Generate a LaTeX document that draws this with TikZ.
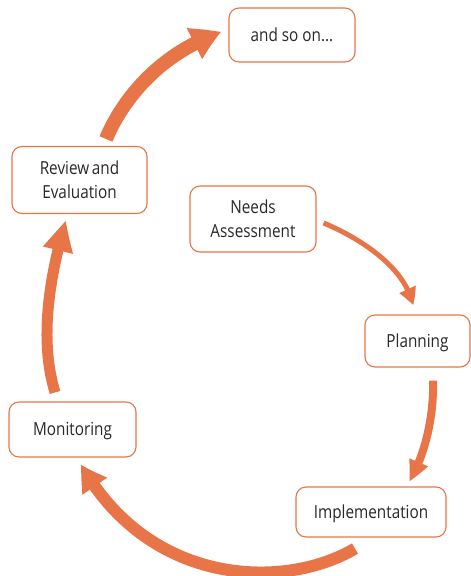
\documentclass[tikz,border=0pt]{standalone}
\usepackage{fontspec}
\setmainfont{Open Sans}[FakeStretch=0.85]
\usetikzlibrary{arrows.meta,bending,calc}
\definecolor{accent}{RGB}{232,117,72}
\definecolor{ink}{RGB}{40,40,40}
\begin{document}
\begin{tikzpicture}[x=1bp,y=-1bp,
  stage/.style={draw=accent, line width=1.1bp, rounded corners=10bp, fill=white,
    text=ink, font=\fontsize{18bp}{24bp}\selectfont, align=center, inner sep=0pt},
  oneline/.style={text height=12.9bp, text depth=0bp},
  flow/.style n args={3}{draw=accent, line width=#1,
    -{Triangle[length=#2, width=#3, bend]}}]
\useasboundingbox (0,0) rectangle (471,576);

% stages of the cycle
\node[stage, oneline, minimum width=126bp, minimum height=54bp] (soon) at (292,35) {and so on...};
\node[stage, minimum width=135bp, minimum height=67bp, yshift=-1.5bp] (review) at (79.5,178.5) {Review\hspace{0.15em}and\\Evaluation};
\node[stage, minimum width=126bp, minimum height=66bp, yshift=-1bp] (needs) at (253,218) {Needs\\Assessment};
\node[stage, oneline, minimum width=105bp, minimum height=52bp] (planning) at (417.5,341) {Planning};
\node[stage, oneline, minimum width=127bp, minimum height=55bp] (monitoring) at (72.5,429.5) {Monitoring};
\node[stage, oneline, minimum width=150bp, minimum height=50bp] (implementation) at (371,512) {Implementation};

% arrows, growing thicker around the cycle
\draw[flow={5bp}{17bp}{17bp}]
  ($(needs.east)+(7,4)$) .. controls (355,236) and (405,265) .. ($(planning.north)+(-4.5,-9)$);
\draw[flow={8bp}{21bp}{19bp}]
  ($(planning.south)+(15.5,13)$) .. controls (434,415) and (425.5,455) .. ($(implementation.north)+(38,-5)$);
\draw[flow={12bp}{26bp}{28bp}]
  ($(implementation.south)+(-16,11)$) .. controls (285,590) and (150,587) .. ($(monitoring.south)+(8.5,7)$);
\draw[flow={11bp}{32bp}{28bp}]
  ($(monitoring.north)+(-17.5,-9)$) .. controls (47,365) and (38,315) .. ($(review.south)+(-13.5,6)$);
\draw[flow={14bp}{30bp}{32bp}]
  ($(review.north)+(26.5,-7)$) .. controls (120,105) and (155,55) .. ($(soon.west)+(-7,-3)$);
\end{tikzpicture}
\end{document}
